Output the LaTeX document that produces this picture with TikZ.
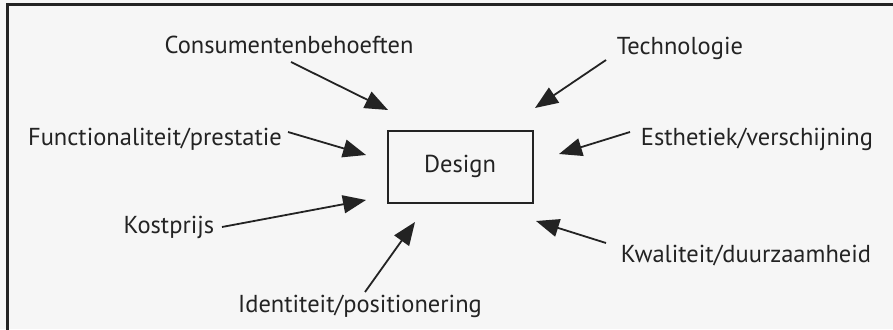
\documentclass[tikz,border=0pt]{standalone}
\usepackage{fontspec}
\setmainfont{PT Sans}
\usetikzlibrary{arrows.meta}
\definecolor{paper}{RGB}{246,246,246}
\definecolor{ink}{RGB}{35,35,35}
\begin{document}
\begin{tikzpicture}[x=1pt,y=-1pt,
  factor/.style={anchor=base,text=ink,inner sep=0pt,font=\fontsize{24.5}{28}\selectfont},
  influence/.style={draw=ink,line width=1.8pt,-{Triangle[length=23pt,width=18pt]}},
  core/.style={draw=ink,line width=1.4pt,minimum width=145pt,minimum height=72pt,inner sep=0pt}]
  % page and frame (open at right and bottom)
  \fill[paper] (0,0) rectangle (893,329);
  \useasboundingbox (0,0) rectangle (893,329);
  \draw[ink,line width=3pt] (7,340) -- (7,5) -- (900,5);

  % central box
  \node[core] (design) at (460.5,167) {};
  \node[factor] (designtxt) at (460,172) {Design};

  % surrounding factors
  \node[factor] (consument) at (289,54) {Consumentenbehoeften};
  \node[factor] (techno) at (680,55) {Technologie};
  \node[factor] (functie) at (155,145) {Functionaliteit/prestatie};
  \node[factor] (esthetiek) at (757,145) {Esthetiek/verschijning};
  \node[factor] (kosten) at (169,233) {Kostprijs};
  \node[factor] (identiteit) at (360,312) {Identiteit/positionering};
  \node[factor] (kwaliteit) at (746,262) {Kwaliteit/duurzaamheid};

  % arrow ends
  \coordinate (c1) at (291,62);  \coordinate (t1) at (388,110);
  \coordinate (c2) at (606,60);  \coordinate (t2) at (535,108);
  \coordinate (c3) at (288,132); \coordinate (t3) at (366,155);
  \coordinate (c4) at (630,132); \coordinate (t4) at (559,154);
  \coordinate (c5) at (222,227); \coordinate (t5) at (366,200);
  \coordinate (c6) at (365,292); \coordinate (t6) at (415,222);
  \coordinate (c7) at (606,243); \coordinate (t7) at (536,221);

  \draw[influence] (c1) -- (t1);
  \draw[influence] (c2) -- (t2);
  \draw[influence] (c3) -- (t3);
  \draw[influence] (c4) -- (t4);
  \draw[influence] (c5) -- (t5);
  \draw[influence] (c6) -- (t6);
  \draw[influence] (c7) -- (t7);
\end{tikzpicture}
\end{document}
